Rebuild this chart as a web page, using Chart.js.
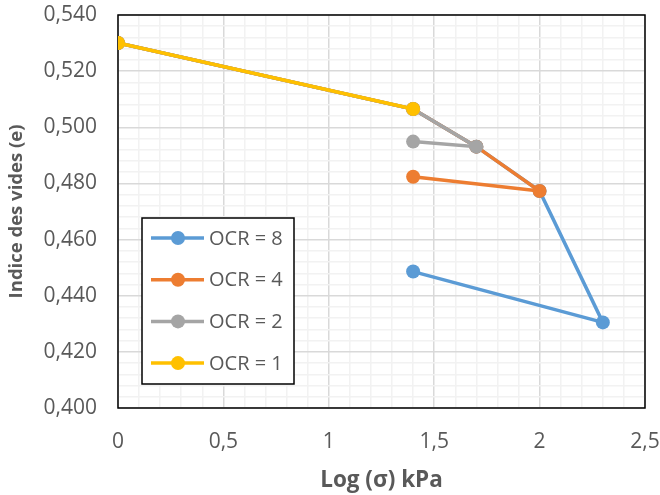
<!DOCTYPE html>
<html>
<head>
<meta charset="utf-8">
<script src="https://cdn.jsdelivr.net/npm/chart.js@4"></script>
<style>
  html, body { margin: 0; padding: 0; background: #fff; }
  #wrap { width: 660px; height: 495px; position: relative; }
</style>
</head>
<body>
<div id="wrap"><canvas id="oedoChart"></canvas></div>
<script>
// data
const ocr8X = [0, 1.4, 1.7, 2.0, 2.3, 1.4];
const ocr8Y = [0.530, 0.5065, 0.4931, 0.4773, 0.4305, 0.4486];
const ocr4X = [0, 1.4, 1.7, 2.0, 1.4];
const ocr4Y = [0.530, 0.5065, 0.4931, 0.4773, 0.4824];
const ocr2X = [0, 1.4, 1.7, 1.4];
const ocr2Y = [0.530, 0.5065, 0.4931, 0.4949];
const ocr1X = [0, 1.4];
const ocr1Y = [0.530, 0.5065];

const seriesNames = ['OCR = 8', 'OCR = 4', 'OCR = 2', 'OCR = 1'];
const seriesColors = ['#5B9BD5', '#ED7D31', '#A5A5A5', '#FFC000'];

const FONT = "'Open Sans', sans-serif";

function toPoints(xs, ys) {
    return xs.map((x, i) => ({ x: x, y: ys[i] }));
}

function makeSet(i, xs, ys) {
    return {
        label: seriesNames[i],
        data: toPoints(xs, ys),
        showLine: true,
        borderColor: seriesColors[i],
        backgroundColor: seriesColors[i],
        borderWidth: 3.5,
        pointRadius: 7,
        pointHoverRadius: 7,
        pointBorderWidth: 0,
        order: 4 - i   // OCR = 1 ends up on top, like the original
    };
}

const frame = {
    id: 'frame',
    beforeDatasetsDraw(chart) {
        const a = chart.chartArea;
        const c = chart.ctx;
        c.save();
        c.strokeStyle = '#000';
        c.lineWidth = 1.5;
        c.strokeRect(a.left, a.top, a.right - a.left, a.bottom - a.top);
        c.restore();
    }
};

const boxLegend = {
    id: 'boxLegend',
    afterDatasetsDraw(chart) {
        const a = chart.chartArea;
        const c = chart.ctx;
        const bx = a.left + 24, by = a.bottom - 190, bw = 152, bh = 166;
        c.save();
        c.fillStyle = '#fff';
        c.fillRect(bx, by, bw, bh);
        c.strokeStyle = '#000';
        c.lineWidth = 1.5;
        c.strokeRect(bx, by, bw, bh);
        c.font = '20px ' + FONT;
        c.textBaseline = 'middle';
        c.textAlign = 'left';
        seriesNames.forEach((name, i) => {
            const y = by + 20 + i * 41.7;
            c.strokeStyle = seriesColors[i];
            c.lineWidth = 3.5;
            c.beginPath();
            c.moveTo(bx + 9, y);
            c.lineTo(bx + 62, y);
            c.stroke();
            c.fillStyle = seriesColors[i];
            c.beginPath();
            c.arc(bx + 36, y, 7, 0, Math.PI * 2);
            c.fill();
            c.fillStyle = '#595959';
            c.fillText(name, bx + 67, y + 1);
        });
        c.restore();
    }
};

new Chart(document.getElementById('oedoChart'), {
    type: 'scatter',
    data: {
        datasets: [
            makeSet(0, ocr8X, ocr8Y),
            makeSet(1, ocr4X, ocr4Y),
            makeSet(2, ocr2X, ocr2Y),
            makeSet(3, ocr1X, ocr1Y)
        ]
    },
    options: {
        responsive: true,
        maintainAspectRatio: false,
        animation: false,
        layout: { padding: { top: 15, right: 15, left: 0, bottom: 0 } },
        plugins: {
            legend: { display: false },
            tooltip: { enabled: false }
        },
        scales: {
            x: {
                type: 'linear',
                min: 0,
                max: 2.5,
                afterFit(scale) {
                    scale.height = 87;
                    // tick padding would otherwise be added to the side padding
                    scale.paddingLeft = 0;
                    scale.paddingRight = 0;
                },
                border: { display: false },
                grid: {
                    drawTicks: false,
                    color: ctx => (ctx.index % 5 === 0 ? '#d9d9d9' : '#f2f2f2'),
                    lineWidth: 1.5
                },
                ticks: {
                    stepSize: 0.1,
                    autoSkip: false,
                    maxRotation: 0,
                    padding: 21,
                    color: '#595959',
                    font: { family: FONT, size: 21 },
                    callback: (v, i) => (i % 5 === 0 ? String(Math.round(v * 10) / 10).replace('.', ',') : '')
                },
                title: {
                    display: true,
                    text: 'Log (σ) kPa',
                    color: '#595959',
                    font: { family: FONT, size: 22.5, weight: 'bold' },
                    padding: { top: 0, bottom: 1 }
                }
            },
            y: {
                type: 'linear',
                min: 0.4,
                max: 0.54,
                afterFit(scale) {
                    scale.width = 118;
                    scale.paddingTop = 0;
                    scale.paddingBottom = 0;
                },
                border: { display: false },
                grid: {
                    drawTicks: false,
                    color: ctx => (ctx.index % 5 === 0 ? '#d9d9d9' : '#f2f2f2'),
                    lineWidth: 1.5
                },
                ticks: {
                    stepSize: 0.004,
                    autoSkip: false,
                    padding: 21,
                    color: '#595959',
                    font: { family: FONT, size: 21 },
                    callback: (v, i) => (i % 5 === 0 ? v.toFixed(3).replace('.', ',') : '')
                },
                title: {
                    display: true,
                    text: 'Indice des vides (e)',
                    color: '#595959',
                    font: { family: FONT, size: 18.5, weight: 'bold' },
                    padding: { top: 6, bottom: 0 }
                }
            }
        }
    },
    plugins: [frame, boxLegend]
});
</script>
</body>
</html>
